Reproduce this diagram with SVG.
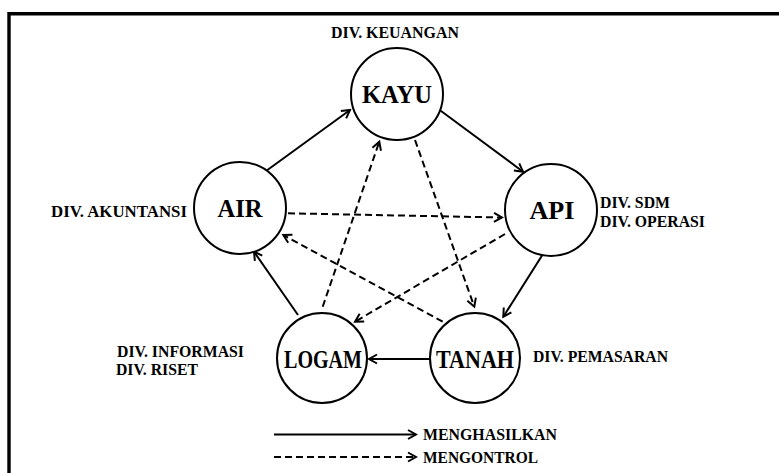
<svg xmlns="http://www.w3.org/2000/svg" width="779" height="473" viewBox="0 0 779 473">
  <style>
    .node { fill: #ffffff; stroke: #000000; stroke-width: 2; }
    .nlabel { font-family: "Liberation Serif", "Times New Roman", serif; font-weight: bold; font-size: 25px; fill: #000; text-anchor: middle; }
    .div { font-family: "Liberation Serif", "Times New Roman", serif; font-weight: bold; font-size: 16.5px; fill: #000; }
    .solid { fill: none; stroke: #000; stroke-width: 2; marker-end: url(#arr); }
    .dash { fill: none; stroke: #000; stroke-width: 2; stroke-dasharray: 7 4; marker-end: url(#arr); }
  </style>
  <defs>
    <marker id="arr" markerUnits="userSpaceOnUse" markerWidth="12" markerHeight="12" refX="10" refY="6" orient="auto" viewBox="0 0 12 12">
      <path d="M2,1.5 L10,6 L2,10.5" fill="none" stroke="#000" stroke-width="2" stroke-dasharray="none"/>
    </marker>
  </defs>
  <rect width="779" height="473" fill="#ffffff"/>
  <path d="M9,473 V13.7 H779" fill="none" stroke="#000" stroke-width="3.4"/>

  <g id="connectors">
    <line class="solid" x1="265" y1="171.7" x2="350" y2="110"/>
    <line class="solid" x1="440.7" y1="110.7" x2="523" y2="171.7"/>
    <line class="solid" x1="543" y1="254" x2="503.3" y2="316.7"/>
    <line class="solid" x1="430" y1="359" x2="369" y2="359"/>
    <line class="solid" x1="298" y1="315" x2="254" y2="251.7"/>
    <line class="dash" x1="288" y1="213.3" x2="502" y2="217.5"/>
    <line class="dash" x1="505" y1="234" x2="355" y2="321.7"/>
    <line class="dash" x1="442.7" y1="321.7" x2="283.3" y2="235"/>
    <line class="dash" x1="322.7" y1="306.7" x2="379.3" y2="141.7"/>
    <line class="dash" x1="415" y1="140" x2="474.3" y2="306.7"/>
  </g>

  <g id="kayu">
    <circle class="node" cx="397" cy="94" r="46"/>
    <text class="nlabel" x="397" y="103" textLength="70" lengthAdjust="spacingAndGlyphs">KAYU</text>
  </g>
  <g id="air">
    <circle class="node" cx="240" cy="208" r="46"/>
    <text class="nlabel" x="240" y="217" textLength="45" lengthAdjust="spacingAndGlyphs">AIR</text>
  </g>
  <g id="api">
    <circle class="node" cx="551" cy="210" r="46"/>
    <text class="nlabel" x="552" y="219" textLength="45" lengthAdjust="spacingAndGlyphs">API</text>
  </g>
  <g id="logam">
    <circle class="node" cx="322" cy="358" r="45"/>
    <text class="nlabel" x="323" y="368" textLength="78" lengthAdjust="spacingAndGlyphs">LOGAM</text>
  </g>
  <g id="tanah">
    <circle class="node" cx="475" cy="358" r="45"/>
    <text class="nlabel" x="475" y="368" textLength="78" lengthAdjust="spacingAndGlyphs">TANAH</text>
  </g>

  <g id="labels">
    <text class="div" x="331" y="38" textLength="128" lengthAdjust="spacingAndGlyphs">DIV. KEUANGAN</text>
    <text class="div" x="51" y="217" textLength="136" lengthAdjust="spacingAndGlyphs">DIV. AKUNTANSI</text>
    <text class="div" x="600" y="208" textLength="70" lengthAdjust="spacingAndGlyphs">DIV. SDM</text>
    <text class="div" x="600" y="227" textLength="105" lengthAdjust="spacingAndGlyphs">DIV. OPERASI</text>
    <text class="div" x="117" y="357" textLength="127" lengthAdjust="spacingAndGlyphs">DIV. INFORMASI</text>
    <text class="div" x="116" y="375" textLength="82" lengthAdjust="spacingAndGlyphs">DIV. RISET</text>
    <text class="div" x="533" y="362" textLength="135" lengthAdjust="spacingAndGlyphs">DIV. PEMASARAN</text>
  </g>

  <g id="legend">
    <line class="solid" x1="274" y1="434.5" x2="416" y2="434.5"/>
    <line class="dash" x1="274" y1="457" x2="416" y2="457"/>
    <text class="div" x="423" y="440" textLength="134" lengthAdjust="spacingAndGlyphs">MENGHASILKAN</text>
    <text class="div" x="423" y="463" textLength="115" lengthAdjust="spacingAndGlyphs">MENGONTROL</text>
  </g>
</svg>
